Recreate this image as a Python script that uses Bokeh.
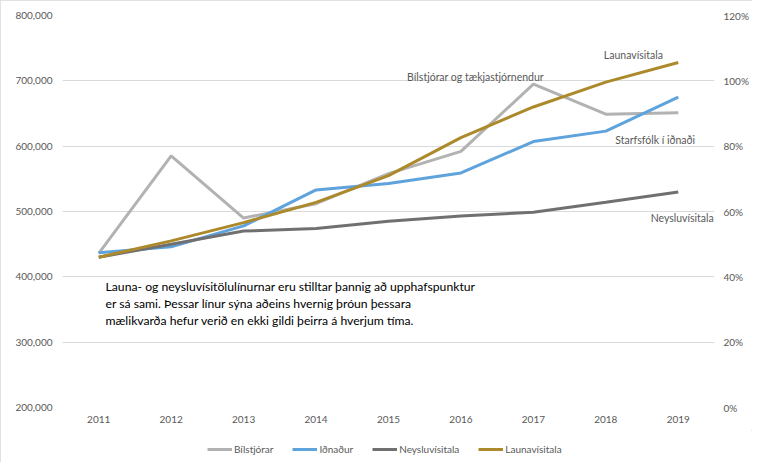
from bokeh.plotting import figure
from bokeh.layouts import column
from bokeh.models import (Range1d, FactorRange, LinearAxis, Legend, LegendItem, Label,
                          NumeralTickFormatter, PrintfTickFormatter, FixedTicker)
from bokeh.embed import file_html
from bokeh.resources import INLINE

years = ["2011", "2012", "2013", "2014", "2015", "2016", "2017", "2018", "2019"]
bilstjorar = [436000, 585000, 490000, 512000, 558000, 592000, 695000, 649000, 651000]
idnadur = [437000, 446000, 478000, 533000, 543000, 559000, 607000, 623000, 675000]
neysluvisitala = [46.0, 50.0, 54.0, 54.8, 57.0, 58.6, 59.8, 62.8, 66.0]
launavisitala = [46.0, 51.0, 56.6, 62.8, 71.0, 82.6, 92.0, 99.6, 105.6]

left_ticks = [200000, 300000, 400000, 500000, 600000, 700000, 800000]
right_ticks = [0, 20, 40, 60, 80, 100, 120]

names = ["Bílstjórar", "Iðnaður", "Neysluvísitala", "Launavísitala"]
colors = ["#B2B2B2", "#5FA3DD", "#707070", "#AC8A2C"]
series = [bilstjorar, idnadur, neysluvisitala, launavisitala]
axes_of = ["default", "default", "pct", "pct"]

FONT = "Lato"
TXT = "#595959"

p = figure(width=752, height=430, x_range=FactorRange(*years), y_range=Range1d(200000, 800000),
           output_backend="svg", toolbar_location=None,
           min_border_left=62, min_border_right=38, min_border_top=15, min_border_bottom=23)
p.extra_y_ranges = {"pct": Range1d(0, 120)}
p.outline_line_color = None
p.xgrid.grid_line_color = None
p.ygrid.grid_line_color = "#D9D9D9"
p.ygrid.ticker = FixedTicker(ticks=left_ticks)

p.yaxis[0].ticker = FixedTicker(ticks=left_ticks)
p.yaxis[0].formatter = NumeralTickFormatter(format="0,0")

right = LinearAxis(y_range_name="pct", ticker=FixedTicker(ticks=right_ticks),
                   formatter=PrintfTickFormatter(format="%d%%"))
p.add_layout(right, "right")

for ax in p.axis:
    ax.axis_line_color = None
    ax.major_tick_line_color = None
    ax.minor_tick_line_color = None
    ax.major_tick_out = 0
    ax.major_tick_in = 0
    ax.major_label_text_font = FONT
    ax.major_label_text_font_size = "10px"
    ax.major_label_text_color = TXT
p.yaxis[0].major_label_standoff = 10
right.major_label_standoff = 9
p.xaxis.major_label_standoff = 8

for s, c, rn in zip(series, colors, axes_of):
    p.line(years, s, line_color=c, line_width=3, y_range_name=rn)

def lab(text, x, y, align="center", size="10.5px", color=TXT, baseline="middle", **kw):
    p.add_layout(Label(x=x, y=y, text=text, text_align=align, text_baseline=baseline,
                       text_font=FONT, text_font_size=size, text_color=color, **kw))

lab("Bílstjórar og tækjastjórnendur", 5.70, 706000)
lab("Launavísitala", 7.88, 739000)
lab("Starfsfólk í iðnaði", 8.18, 610000)
lab("Neysluvísitala", 8.99, 490000, align="right")
lab("Launa- og neysluvísitölulínurnar eru stilltar þannig að upphafspunktur\n"
    "er sá sami. Þessar línur sýna aðeins hvernig þróun þessara\n"
    "mælikvarða hefur verið en ekki gildi þeirra á hverjum tíma.",
    0.594, 396000, align="left", size="12.2px", color="#000000", baseline="top",
    text_line_height=1.13)

# legend strip below the chart (series drawn off-view, only their legend swatches show)
lf = figure(width=752, height=32, x_range=FactorRange(*years), y_range=Range1d(0, 1),
            output_backend="svg", toolbar_location=None, x_axis_type=None, y_axis_type=None,
            min_border=0)
lf.outline_line_color = None
lf.xgrid.grid_line_color = None
lf.ygrid.grid_line_color = None
items = []
for n, c, s in zip(names, colors, series):
    r = lf.line(years, s, line_color=c, line_width=3)
    items.append(LegendItem(label=n, renderers=[r]))
legend = Legend(items=items, orientation="horizontal", location=(145, 7),
                label_text_font=FONT, label_text_font_size="10px", label_text_color=TXT,
                glyph_width=25, glyph_height=12, label_standoff=2, spacing=19,
                padding=2, margin=0, border_line_color=None, background_fill_alpha=0)
lf.add_layout(legend)

layout = column(p, lf, spacing=0,
                styles={"box-shadow": "inset 0 0 0 1px #D9D9D9"})
open("out.html", "w").write(file_html(layout, INLINE))
